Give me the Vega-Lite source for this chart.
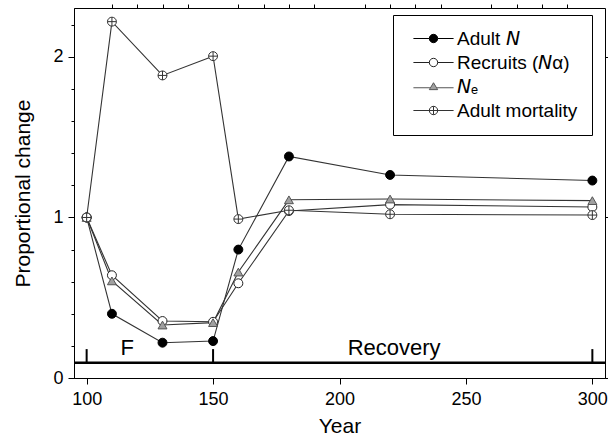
{
  "$schema": "https://vega.github.io/schema/vega-lite/v6.json",
  "width": 531,
  "height": 370,
  "autosize": {"type": "none"},
  "padding": {"left": 74, "top": 8, "right": 3, "bottom": 64},
  "background": "white",
  "config": {
    "font": "Liberation Sans",
    "view": {"stroke": "black", "strokeWidth": 1},
    "axis": {
      "grid": false,
      "domainColor": "black",
      "tickColor": "black",
      "labelColor": "black",
      "titleColor": "black",
      "labelFont": "Liberation Sans",
      "titleFont": "Liberation Sans",
      "labelFontSize": 18,
      "titleFontSize": 21,
      "titleFontWeight": "normal",
      "domainWidth": 1,
      "tickWidth": 1,
      "labelFlush": false
    }
  },
  "data": {
    "values": [
      {"series": "Adult N", "year": 100, "value": 1},
      {"series": "Adult N", "year": 110, "value": 0.40},
      {"series": "Adult N", "year": 130, "value": 0.22},
      {"series": "Adult N", "year": 150, "value": 0.23},
      {"series": "Adult N", "year": 160, "value": 0.80},
      {"series": "Adult N", "year": 180, "value": 1.38},
      {"series": "Adult N", "year": 220, "value": 1.265},
      {"series": "Adult N", "year": 300, "value": 1.23},
      {"series": "Recruits (Na)", "year": 100, "value": 1},
      {"series": "Recruits (Na)", "year": 110, "value": 0.64},
      {"series": "Recruits (Na)", "year": 130, "value": 0.355},
      {"series": "Recruits (Na)", "year": 150, "value": 0.35},
      {"series": "Recruits (Na)", "year": 160, "value": 0.59},
      {"series": "Recruits (Na)", "year": 180, "value": 1.04},
      {"series": "Recruits (Na)", "year": 220, "value": 1.08},
      {"series": "Recruits (Na)", "year": 300, "value": 1.065},
      {"series": "Ne", "year": 100, "value": 1},
      {"series": "Ne", "year": 110, "value": 0.605},
      {"series": "Ne", "year": 130, "value": 0.33},
      {"series": "Ne", "year": 150, "value": 0.345},
      {"series": "Ne", "year": 160, "value": 0.66},
      {"series": "Ne", "year": 180, "value": 1.11},
      {"series": "Ne", "year": 220, "value": 1.115},
      {"series": "Ne", "year": 300, "value": 1.105},
      {"series": "Adult mortality", "year": 100, "value": 1},
      {"series": "Adult mortality", "year": 110, "value": 2.22},
      {"series": "Adult mortality", "year": 130, "value": 1.885},
      {"series": "Adult mortality", "year": 150, "value": 2.005},
      {"series": "Adult mortality", "year": 160, "value": 0.99},
      {"series": "Adult mortality", "year": 180, "value": 1.045},
      {"series": "Adult mortality", "year": 220, "value": 1.02},
      {"series": "Adult mortality", "year": 300, "value": 1.015}
    ]
  },
  "layer": [
    {
      "mark": {"type": "line", "color": "#333333", "strokeWidth": 1.1},
      "encoding": {
        "x": {
          "field": "year", "type": "quantitative",
          "scale": {"domain": [95, 305], "nice": false, "zero": false},
          "axis": {
            "title": "Year",
            "values": [100, 150, 200, 250, 300],
            "format": "d",
            "tickSize": 6,
            "labelPadding": 6,
            "titlePadding": 7
          }
        },
        "y": {
          "field": "value", "type": "quantitative",
          "scale": {"domain": [0, 2.305], "nice": false},
          "axis": {
            "title": "Proportional change",
            "values": [0,0.2,0.4,0.6,0.8,1,1.2,1.4,1.6,1.8,2,2.2],
            "labelOverlap": false,
            "labelExpr": "datum.value === 0 || datum.value === 1 || datum.value === 2 ? format(datum.value, 'd') : ''",
            "tickSize": {"condition": {"test": "datum.value === 0 || datum.value === 1 || datum.value === 2", "value": 6}, "value": 3},
            "labelPadding": 5,
            "titlePadding": 19
          }
        },
        "detail": {"field": "series"}
      }
    },
    {
      "mark": {"type": "point", "opacity": 1, "strokeWidth": 1, "size": 80},
      "encoding": {
        "x": {
          "field": "year", "type": "quantitative",
          "axis": {
            "values": [110,120,130,140,160,170,180,190,210,220,230,240,260,270,280,290],
            "labels": false, "title": null, "domain": false, "tickSize": 4
          }
        },
        "y": {
          "field": "value", "type": "quantitative",
          "axis": {"orient": "right", "values": [0, 1, 2], "labels": false, "title": null, "domain": false, "tickSize": 5}
        },
        "shape": {
          "field": "series", "type": "nominal",
          "scale": {
            "domain": ["Adult N", "Recruits (Na)", "Ne", "Adult mortality"],
            "range": ["circle", "circle", "triangle-up", "M-1,0A1,1,0,1,1,1,0A1,1,0,1,1,-1,0ZM-1,0L1,0M0,-1L0,1"]
          },
          "legend": null
        },
        "fill": {
          "field": "series", "type": "nominal",
          "scale": {
            "domain": ["Adult N", "Recruits (Na)", "Ne", "Adult mortality"],
            "range": ["black", "white", "#a0a0a0", "white"]
          },
          "legend": null
        },
        "stroke": {
          "field": "series", "type": "nominal",
          "scale": {
            "domain": ["Adult N", "Recruits (Na)", "Ne", "Adult mortality"],
            "range": ["black", "#222222", "#555555", "#333333"]
          },
          "legend": null
        }
      }
    },
    {
      "transform": [{"filter": "false"}],
      "mark": {"type": "point", "opacity": 1, "strokeWidth": 1, "size": 70},
      "encoding": {
        "x": {"field": "year", "type": "quantitative", "axis": null},
        "y": {"field": "value", "type": "quantitative", "axis": null},
        "shape": {
          "field": "series", "type": "nominal",
          "scale": {
            "domain": ["Adult N", "Recruits (Na)", "Ne", "Adult mortality"],
            "range": [
              "M-4.8,0L-1,0M1,0L4.8,0M-1,0A1,1,0,1,1,1,0A1,1,0,1,1,-1,0Z",
              "M-4.8,0L-1,0M1,0L4.8,0M-1,0A1,1,0,1,1,1,0A1,1,0,1,1,-1,0Z",
              "M-4.8,0.3L-0.85,0.3M0.85,0.3L4.8,0.3M0,-0.9L1,0.75L-1,0.75Z",
              "M-4.8,0L4.8,0M-1,0A1,1,0,1,1,1,0A1,1,0,1,1,-1,0ZM0,-1L0,1"
            ]
          },
          "legend": {
            "orient": "none",
            "legendX": 319,
            "legendY": 7,
            "title": null,
            "strokeColor": "black",
            "fillColor": "white",
            "padding": 14,
            "labelFont": "Liberation Sans",
            "labelFontSize": 19,
            "labelColor": "black",
            "symbolSize": 70,
            "symbolStrokeWidth": 1,
            "symbolOpacity": 1,
            "rowPadding": 4,
            "symbolOffset": 17,
            "labelOffset": 14,
            "labelExpr": "datum.label === 'Adult N' ? 'Adult \ud835\ude15' : datum.label === 'Recruits (Na)' ? 'Recruits (\ud835\ude15\u03b1)' : datum.label === 'Ne' ? '\ud835\ude15\u2091' : datum.label"
          }
        },
        "fill": {
          "field": "series", "type": "nominal",
          "scale": {
            "domain": ["Adult N", "Recruits (Na)", "Ne", "Adult mortality"],
            "range": ["black", "white", "#a0a0a0", "white"]
          }
        },
        "stroke": {
          "field": "series", "type": "nominal",
          "scale": {
            "domain": ["Adult N", "Recruits (Na)", "Ne", "Adult mortality"],
            "range": ["black", "#222222", "#555555", "#333333"]
          }
        }
      }
    },
    {
      "data": {"values": [{}]},
      "mark": {"type": "rule", "color": "black", "strokeWidth": 2.5},
      "encoding": {"y": {"datum": 0.095, "type": "quantitative", "axis": null}}
    },
    {
      "data": {"values": [{"year": 100}, {"year": 150}, {"year": 300}]},
      "mark": {"type": "rule", "color": "black", "strokeWidth": 2},
      "encoding": {
        "x": {"field": "year", "type": "quantitative", "axis": null},
        "y": {"datum": 0.095, "type": "quantitative", "axis": null},
        "y2": {"datum": 0.18}
      }
    },
    {
      "data": {"values": [{}]},
      "mark": {"type": "text", "fontSize": 22, "font": "Liberation Sans", "color": "black", "align": "center", "baseline": "alphabetic"},
      "encoding": {
        "x": {"datum": 116, "type": "quantitative", "axis": null},
        "y": {"datum": 0.143, "type": "quantitative", "axis": null},
        "text": {"value": "F"}
      }
    },
    {
      "data": {"values": [{}]},
      "mark": {"type": "text", "fontSize": 22, "font": "Liberation Sans", "color": "black", "align": "center", "baseline": "alphabetic"},
      "encoding": {
        "x": {"datum": 221.6, "type": "quantitative", "axis": null},
        "y": {"datum": 0.143, "type": "quantitative", "axis": null},
        "text": {"value": "Recovery"}
      }
    }
  ],
  "resolve": {
    "axis": {"x": "independent", "y": "independent"},
    "scale": {"shape": "independent", "fill": "independent", "stroke": "independent"}
  }
}
